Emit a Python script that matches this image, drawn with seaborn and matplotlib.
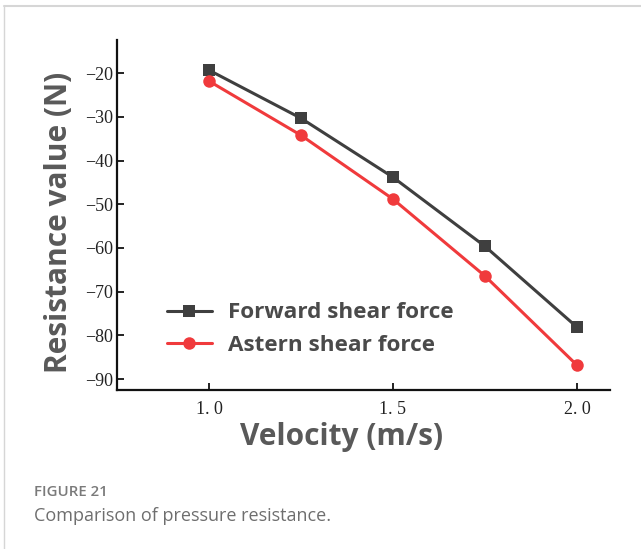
import matplotlib
matplotlib.use("Agg")
import matplotlib.pyplot as plt
import seaborn as sns
import pandas as pd
from matplotlib.lines import Line2D

velocity = [1.0, 1.25, 1.5, 1.75, 2.0]
forward = [-19.3, -30.3, -43.8, -59.6, -78.1]
astern = [-21.8, -34.2, -48.8, -66.4, -86.8]
series_names = ["Forward shear force", "Astern shear force"]
xticks = [1.0, 1.5, 2.0]
xtick_labels = ["1. 0", "1. 5", "2. 0"]
yticks = [-20, -30, -40, -50, -60, -70, -80, -90]

df = pd.DataFrame({
    "Velocity": velocity * 2,
    "Value": forward + astern,
    "Series": [series_names[0]] * len(velocity) + [series_names[1]] * len(velocity),
})

sns.set_theme(style="ticks")
plt.rcParams["font.family"] = ["Open Sans", "DejaVu Sans"]

fig = plt.figure(figsize=(6.41, 5.49), dpi=100)
ax = fig.add_axes([117 / 641, 1 - 390 / 549, (610 - 117) / 641, (390 - 40) / 549])

colors = {series_names[0]: "#3f3f3f", series_names[1]: "#f03a3c"}
markers = {series_names[0]: "s", series_names[1]: "o"}
sns.lineplot(data=df, x="Velocity", y="Value", hue="Series", style="Series",
             palette=colors, markers=markers, dashes=False, markersize=9,
             linewidth=2.2, markeredgewidth=0, ax=ax, legend=False)

ax.set_xlim(0.75, 2.09)
ax.set_ylim(-92.5, -12.4)
ax.tick_params(axis="both", direction="in", length=5, width=1.3, colors="#111111",
               labelcolor="#222222")
ax.tick_params(axis="x", pad=8)
ax.tick_params(axis="y", pad=3)
tick_font = dict(fontfamily="Liberation Serif", fontsize=13, color="#222222")
ax.set_xticks(xticks, xtick_labels, **tick_font)
ax.set_yticks(yticks, ["\u2212%d" % abs(v) for v in yticks], **tick_font)
for s in ["top", "right"]:
    ax.spines[s].set_visible(False)
for s in ["left", "bottom"]:
    ax.spines[s].set_linewidth(1.6)
    ax.spines[s].set_color("#111111")

ax.set_xlabel("Velocity (m/s)", fontsize=21.5, fontweight="bold", color="#595959")
ax.set_ylabel("Resistance value (N)", fontsize=21.5, fontweight="bold", color="#595959")
ax.xaxis.set_label_coords((342 - 117) / (610 - 117), -(437 - 390) / 350, transform=ax.transAxes)
ax.yaxis.set_label_coords(-(117 - 59) / 493, (390 - 222) / 350, transform=ax.transAxes)
ax.xaxis.label.set_va("center")
ax.yaxis.label.set_va("center")

handles = [Line2D([0], [0], color=colors[n], marker=markers[n], markersize=9,
                  markeredgewidth=0, linewidth=2.2) for n in series_names]
leg = ax.legend(handles, series_names, loc="lower left", bbox_to_anchor=(0.06, 0.04),
                frameon=False, prop={"family": "Open Sans", "weight": "bold", "size": 16.2},
                handlelength=2.0, handletextpad=0.7, labelspacing=0.5)
for t in leg.get_texts():
    t.set_color("#4a4a4a")

# card border
fig.add_artist(Line2D([4 / 641, 1], [1 - 6 / 549, 1 - 6 / 549], color="#d6d6d6", linewidth=1.5,
                      transform=fig.transFigure))
fig.add_artist(Line2D([4 / 641, 4 / 641], [0, 1 - 6 / 549], color="#d6d6d6", linewidth=1.0,
                      transform=fig.transFigure))

fig.text(34 / 641, 1 - 492 / 549, "FIGURE 21", fontsize=10.8, fontweight="semibold",
         color="#7a7a7a", va="center", family=["Open Sans", "DejaVu Sans"])
fig.text(34 / 641, 1 - 516 / 549, "Comparison of pressure resistance.", fontsize=13,
         color="#6e6e6e", va="center", family=["Open Sans", "DejaVu Sans"])

fig.savefig("out.png", dpi=100)
